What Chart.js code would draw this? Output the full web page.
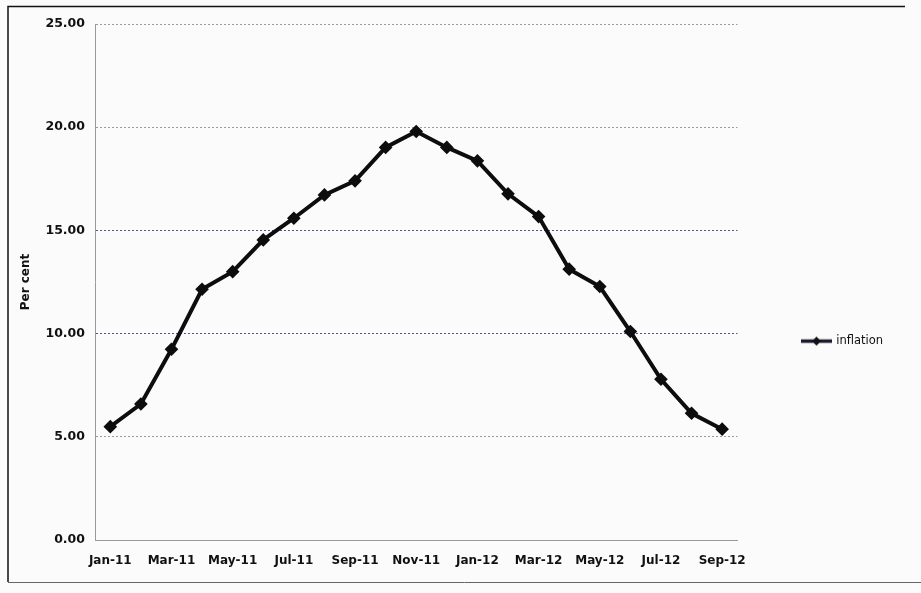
<!DOCTYPE html>
<html><head><meta charset="utf-8">
<script src="https://cdn.jsdelivr.net/npm/chart.js@4.4.1/dist/chart.umd.min.js"></script>
<style>html,body{margin:0;padding:0;background:#fbfbfb}</style>
</head><body>
<canvas id="c" width="921" height="593" style="display:block;width:921px;height:593px"></canvas>
<script>
const months = ['Jan-11','Feb-11','Mar-11','Apr-11','May-11','Jun-11','Jul-11','Aug-11','Sep-11','Oct-11','Nov-11','Dec-11',
                'Jan-12','Feb-12','Mar-12','Apr-12','May-12','Jun-12','Jul-12','Aug-12','Sep-12'];
const inflation = [5.49,6.59,9.24,12.15,13.00,14.54,15.59,16.72,17.40,19.02,19.79,19.02,
                   18.37,16.77,15.67,13.12,12.28,10.10,7.79,6.14,5.37];
const seriesName = 'inflation';
const yAxisTitle = 'Per cent';
const yMin = 0, yMax = 25, yStep = 5;

// legend marker: line with diamond
const mk = document.createElement('canvas');
mk.width = 31; mk.height = 11;
(function(){
  const g = mk.getContext('2d');
  g.strokeStyle = '#1a1a2a'; g.lineWidth = 3.5;
  g.beginPath(); g.moveTo(0,5.5); g.lineTo(31,5.5); g.stroke();
  g.fillStyle = '#111';
  g.beginPath(); g.moveTo(15.5,1); g.lineTo(20,5.5); g.lineTo(15.5,10); g.lineTo(11,5.5); g.closePath(); g.fill();
})();

const frame = {
  id: 'frame',
  beforeDraw(chart) {
    const g = chart.ctx;
    g.save();
    g.fillStyle = '#fbfbfb';
    g.fillRect(0,0,chart.width,chart.height);
    g.strokeStyle = '#111';
    g.lineWidth = 1.5;
    g.beginPath();
    g.moveTo(8,582); g.lineTo(8,6.5); g.lineTo(905,6.5);
    g.stroke();
    g.lineWidth = 1;
    g.strokeStyle = '#666';
    g.beginPath(); g.moveTo(8,582.5); g.lineTo(921,582.5); g.stroke();
    g.restore();
  }
};

Chart.defaults.font.family = '"DejaVu Sans", sans-serif';
Chart.defaults.color = '#111';

new Chart(document.getElementById('c'), {
  type: 'line',
  data: {
    labels: months,
    datasets: [{
      label: seriesName,
      data: inflation,
      borderColor: '#0d0d0d',
      backgroundColor: '#0d0d0d',
      borderWidth: 4,
      pointStyle: 'rectRot',
      pointRadius: 4,
      pointBackgroundColor: '#0d0d0d',
      pointBorderColor: '#0d0d0d',
      tension: 0
    }]
  },
  options: {
    responsive: false,
    animation: false,
    devicePixelRatio: 1,
    layout: { padding: { left: 14, right: 28, top: 24, bottom: 11 } },
    plugins: {
      tooltip: { enabled: false },
      legend: {
        position: 'right',
        align: 'center',
        title: { display: true, text: ' ', font: { size: 11 }, padding: { top: 32, bottom: 31 } },
        labels: {
          usePointStyle: true,
          pointStyleWidth: 28,
          padding: 10,
          font: { size: 11.5 },
          color: '#111',
          generateLabels(chart) {
            return [{ text: seriesName, pointStyle: mk, fillStyle: '#111', strokeStyle: '#111', lineWidth: 0, hidden: false, datasetIndex: 0 }];
          }
        }
      }
    },
    scales: {
      x: {
        type: 'category',
        offset: true,
        grid: { display: false, drawTicks: false },
        border: { display: true, color: '#999', dash: [2,2] },
        ticks: {
          autoSkip: false,
          maxRotation: 0,
          padding: 14,
          font: { size: 12, weight: 'bold' },
          callback(v, i) { return i % 2 === 0 ? this.getLabelForValue(v) : ''; }
        },
        afterFit(s) { s.height = 42; }
      },
      y: {
        min: yMin, max: yMax,
        grid: {
          drawTicks: false,
          color(ctx) { const v = ctx.tick && ctx.tick.value; return (v === 10 || v === 15) ? '#50548a' : '#9a9a9a'; },
          lineWidth: 1
        },
        border: { display: true, color: '#9a9a9a', dash: [2,2] },
        ticks: {
          stepSize: yStep,
          padding: 10,
          font: { size: 12.5, weight: 'bold' },
          callback(v) { return Number(v).toFixed(2); }
        },
        title: { display: true, text: yAxisTitle, font: { size: 12, weight: 'bold' }, padding: { top: 5, bottom: 0 } },
        afterFit(s) { s.width = 81; }
      },
      spacer: {
        type: 'linear',
        position: 'right',
        display: true,
        grid: { display: false, drawTicks: false },
        border: { display: false },
        ticks: { display: false },
        afterFit(s) { s.width = 55; }
      }
    }
  },
  plugins: [frame]
});
</script>
</body></html>
